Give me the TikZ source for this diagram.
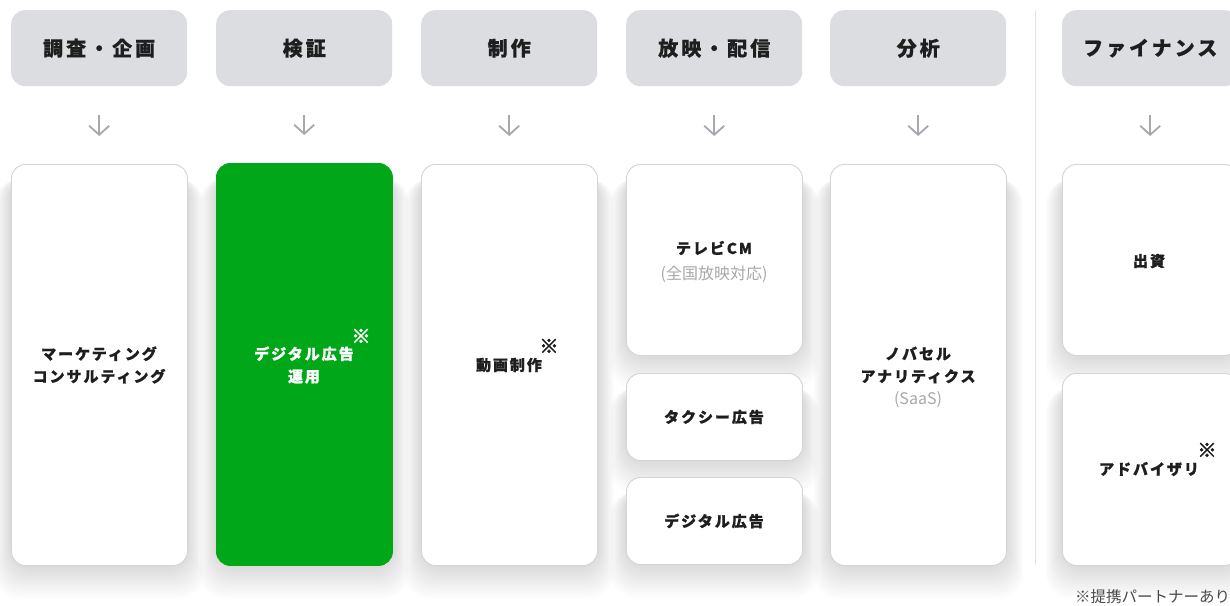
\documentclass[tikz,border=0pt]{standalone}
\usepackage{fontspec}
\setmainfont{Noto Sans CJK JP}
\usetikzlibrary{arrows.meta,backgrounds}
\definecolor{hdr}{HTML}{DCDDE1}
\definecolor{bord}{HTML}{D3D4D8}
\definecolor{grn}{HTML}{00A819}
\definecolor{txt}{HTML}{1E1E1E}
\definecolor{sub}{HTML}{A8A8AC}
\definecolor{arrc}{HTML}{A6A8AD}
\definecolor{divc}{HTML}{E3E3E6}
\definecolor{note}{HTML}{4A4A4A}
\tikzset{
  hdrbox/.style={fill=hdr, rounded corners=14pt, minimum width=176pt, minimum height=76pt, inner sep=0pt, anchor=north west,
    font=\fontsize{20}{24}\selectfont\bfseries\addfontfeature{LetterSpace=15,FakeBold=0.6}, text=txt},
  card/.style={fill=white, draw=bord, line width=0.9pt, rounded corners=14pt, minimum width=176pt, inner sep=0pt, anchor=north west},
  gcard/.style={card, fill=grn, draw=grn},
  ctext/.style={align=center, inner sep=0pt, text=txt, font=\fontsize{15}{22.5}\selectfont\bfseries\addfontfeature{LetterSpace=13,FakeBold=0.8}},
  stext/.style={inner sep=0pt, text=sub, font=\fontsize{16}{18}\selectfont},
  kome/.style={inner sep=0pt, font=\fontsize{19}{20}\selectfont\bfseries\addfontfeature{FakeBold=3}},
  arr/.style={draw=arrc, line width=1.8pt, -{Straight Barb[length=9pt,width=20pt,line width=1.8pt]}},
  shade layer/.style={fill=black, fill opacity=0.007, rounded corners=24pt},
}
\begin{document}
\begin{tikzpicture}[x=1pt,y=-1pt]
\useasboundingbox (0,0) rectangle (1230,605);
% headers
\node[hdrbox] (h1) at (11,10) {調査・企画};
\node[hdrbox] (h2) at (216,10) {検証};
\node[hdrbox] (h3) at (421,10) {制作};
\node[hdrbox] (h4) at (626,10) {放映・配信};
\node[hdrbox] (h5) at (830,10) {分析};
\node[hdrbox] (h6) at (1062,10) {ファイナンス};
% divider
\coordinate (d1) at (1035,10);
\coordinate (d2) at (1035,565);
\draw[divc, line width=1pt] (d1) -- (d2);
% cards
\node[card, minimum height=401pt] (c1) at (11,164) {};
\node[gcard, minimum height=402pt] (c2) at (216,163) {};
\node[card, minimum height=401pt] (c3) at (421,164) {};
\node[card, minimum height=191pt] (c4a) at (626,164) {};
\node[card, minimum height=87pt] (c4b) at (626,373) {};
\node[card, minimum height=87pt] (c4c) at (626,477) {};
\node[card, minimum height=401pt] (c5) at (830,164) {};
\node[card, minimum height=191pt] (c6a) at (1062,164) {};
\node[card, minimum height=192pt] (c6b) at (1062,373) {};
% soft shadows
\begin{scope}[on background layer]
\fill[white] (0,0) rectangle (1230,605);
\foreach \c in {c1,c2,c3,c4a,c4b,c4c,c5,c6a,c6b}
  \foreach \i in {1,...,18}
    \fill[shade layer] ([xshift=-0.9*\i pt, yshift=-10pt-0.3*\i pt]\c.north west) rectangle ([xshift=0.9*\i pt, yshift=-1.8*\i pt]\c.south east);
\end{scope}
% arrows
\foreach \h/\c in {h1/c1,h2/c2,h3/c3,h4/c4a,h5/c5,h6/c6a}
  \draw[arr, shorten <=29pt, shorten >=28pt] (\h.south) -- (\h.south |- \c.north);
% texts
\node[ctext] (t1) at (99,365) {マーケティング\\コンサルティング};
\node[ctext, text=white] (t2) at (304,365) {デジタル広告\\運用};
\node[kome, text=white] (m2) at (361,336) {※};
\node[ctext] (t3) at (509,365) {動画制作};
\node[kome, text=txt] (m3) at (549,346) {※};
\node[ctext] (t4a) at (714,248) {テレビCM};
\node[stext] (s4a) at (714,274) {(全国放映対応)};
\node[ctext] (t4b) at (714,417) {タクシー広告};
\node[ctext] (t4c) at (714,521) {デジタル広告};
\node[ctext] (t5) at (918,365) {ノバセル\\アナリティクス};
\node[stext] (s5) at (918,400) {(SaaS)};
\node[ctext] (t6a) at (1149,261) {出資};
\node[ctext] (t6b) at (1149,469) {アドバイザリ};
\node[kome, text=txt] (m6) at (1207,450) {※};
\node[inner sep=0pt, anchor=west, text=note, font=\fontsize{15.5}{17}\selectfont] (fn) at (1075,597) {※提携パートナーあり};
\end{tikzpicture}
\end{document}
